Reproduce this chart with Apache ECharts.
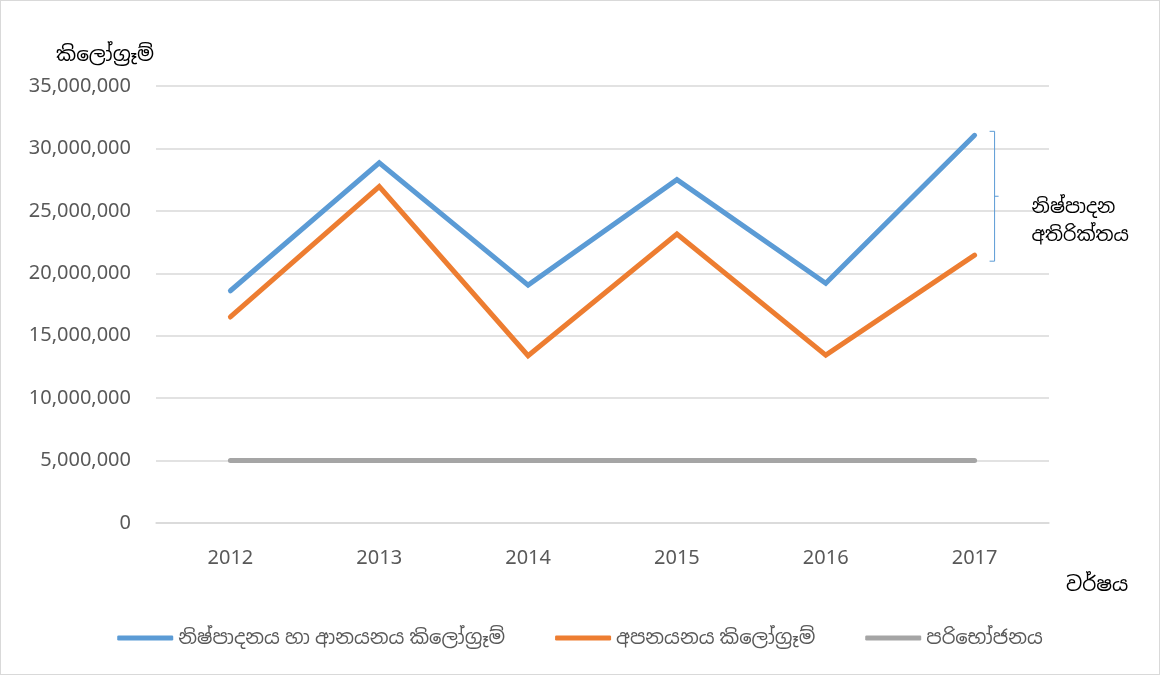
<!DOCTYPE html>
<html>
<head>
<meta charset="utf-8">
<script src="https://cdn.jsdelivr.net/npm/echarts@6/dist/echarts.min.js"></script>
<style>
html,body{margin:0;padding:0;background:#fff;}
#c{width:1160px;height:675px;box-sizing:border-box;border:1px solid #d9d9d9;}
</style>
</head>
<body>
<div id="c"></div>
<script>
const years = ['2012','2013','2014','2015','2016','2017'];
const productionImport = [18600000, 28850000, 19050000, 27500000, 19200000, 31050000];
const exportsKg = [16500000, 26950000, 13400000, 23150000, 13450000, 21450000];
const consumption = [5000000, 5000000, 5000000, 5000000, 5000000, 5000000];
const seriesNames = ['නිෂ්පාදනය හා ආනයනය කිලෝග්‍රෑම්', 'අපනයනය කිලෝග්‍රෑම්', 'පරිභෝජනය'];
const yAxisName = 'කිලෝග්‍රෑම්';
const xAxisName = 'වර්ෂය';
const surplusLabel = 'නිෂ්පාදන\nඅතිරික්තය';

const font = "'Noto Sans', 'Noto Sans Sinhala', 'DejaVu Sans', sans-serif";
const chart = echarts.init(document.getElementById('c'), null, {renderer: 'canvas'});
const fmt = v => v.toLocaleString('en-US');
const lineSeries = (name, data, color) => ({
  name, type: 'line', data, symbol: 'none',
  lineStyle: {color, width: 5, cap: 'round', join: 'miter'},
  itemStyle: {color}
});
chart.setOption({
  animation: false,
  textStyle: {fontFamily: font},
  grid: {left: 155, right: 110, top: 85, bottom: 151},
  xAxis: {
    type: 'category', data: years, boundaryGap: true,
    axisLine: {show: true, lineStyle: {color: '#d9d9d9', width: 1.5}},
    axisTick: {show: false},
    axisLabel: {color: '#595959', fontSize: 20, margin: 25, fontFamily: font},
    splitLine: {show: false}
  },
  yAxis: {
    type: 'value', min: 0, max: 35000000, interval: 5000000,
    axisLine: {show: false}, axisTick: {show: false},
    axisLabel: {color: '#595959', fontSize: 20, margin: 25, formatter: fmt, fontFamily: font},
    splitLine: {lineStyle: {color: '#d9d9d9', width: 1.5}}
  },
  legend: {
    bottom: 21, left: 'center', itemGap: 50, itemWidth: 56, itemHeight: 5,
    icon: 'roundRect',
    textStyle: {color: '#595959', fontSize: 19.5, fontFamily: font},
    data: seriesNames
  },
  series: [
    lineSeries(seriesNames[0], productionImport, '#5b9bd5'),
    lineSeries(seriesNames[1], exportsKg, '#ed7d31'),
    lineSeries(seriesNames[2], consumption, '#a5a5a5')
  ]
});

function drawAnnotations(){
  const last = years.length - 1;
  const top = chart.convertToPixel({seriesIndex: 0}, [last, productionImport[last]]);
  const bot = chart.convertToPixel({seriesIndex: 1}, [last, exportsKg[last]]);
  const bx = top[0] + 20;
  const y1 = top[1] - 4, y2 = bot[1] + 6, ym = (y1 + y2) / 2;
  chart.setOption({
    graphic: [
      {type: 'polyline', shape: {points: [[bx - 5, y1], [bx, y1], [bx, y2], [bx - 5, y2]]},
       style: {stroke: '#5b9bd5', lineWidth: 1, fill: null}},
      {type: 'line', shape: {x1: bx, y1: ym, x2: bx + 4, y2: ym}, style: {stroke: '#5b9bd5', lineWidth: 1}},
      {type: 'text', left: bx + 37, top: ym - 3,
       style: {text: surplusLabel, fill: '#000', font: '19px ' + font, lineHeight: 28}},
      {type: 'text', left: 55, top: 44,
       style: {text: yAxisName, fill: '#000', font: '20px ' + font}},
      {type: 'text', left: 1065, top: 574,
       style: {text: xAxisName, fill: '#000', font: '20px ' + font}}
    ]
  });
}
drawAnnotations();
</script>
</body>
</html>
